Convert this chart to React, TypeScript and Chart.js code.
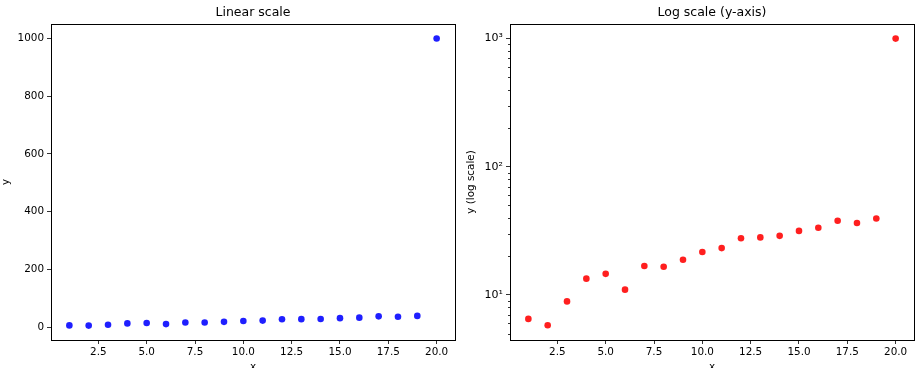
import React, { useEffect, useRef } from "react";
import { Chart, registerables } from "chart.js";

Chart.register(...registerables);

const xValues = [1, 2, 3, 4, 5, 6, 7, 8, 9, 10, 11, 12, 13, 14, 15, 16, 17, 18, 19, 20];
const yValues = [6.5, 5.8, 8.9, 13.4, 14.6, 11.0, 16.8, 16.6, 18.8, 21.6, 23.2, 27.7, 28.1, 28.9, 31.6, 33.4, 37.9, 36.4, 39.5, 1000];
const xTickValues = [2.5, 5.0, 7.5, 10.0, 12.5, 15.0, 17.5, 20.0];
const linearYTicks = [0, 200, 400, 600, 800, 1000];
const logMajorTicks = [10, 100, 1000];
const logMinorTicks = [5, 6, 7, 8, 9, 20, 30, 40, 50, 60, 70, 80, 90, 200, 300, 400, 500, 600, 700, 800, 900];
const superscripts: Record<number, string> = { 10: "10\u00B9", 100: "10\u00B2", 1000: "10\u00B3" };

const FONT = "'DejaVu Sans', sans-serif";
const TICK_SIZE = 10.4;

function makeFramePlugin(title: string, minorTicks: number[] | null) {
  return {
    id: "frame_" + title.replace(/\W/g, ""),
    afterDraw(chart: any) {
      const { ctx, chartArea } = chart;
      ctx.save();
      ctx.strokeStyle = "#000";
      ctx.lineWidth = 1;
      ctx.strokeRect(
        Math.round(chartArea.left) + 0.5,
        Math.round(chartArea.top) + 0.5,
        Math.round(chartArea.right - chartArea.left),
        Math.round(chartArea.bottom - chartArea.top)
      );
      if (minorTicks) {
        const ys = chart.scales.y;
        ctx.beginPath();
        for (const v of minorTicks) {
          const py = Math.round(ys.getPixelForValue(v)) + 0.5;
          if (py < chartArea.top || py > chartArea.bottom) continue;
          ctx.moveTo(chartArea.left, py);
          ctx.lineTo(chartArea.left - 2, py);
        }
        ctx.lineWidth = 0.8;
        ctx.stroke();
      }
      ctx.fillStyle = "#000";
      ctx.font = "12.5px " + FONT;
      ctx.textAlign = "center";
      ctx.textBaseline = "middle";
      ctx.fillText(title, (chartArea.left + chartArea.right) / 2, 13);
      ctx.restore();
    },
  };
}

function buildConfig(log: boolean): any {
  const data = xValues.map((x, i) => ({ x, y: yValues[i] }));
  const color = log ? "rgba(255,0,0,0.88)" : "rgba(0,0,255,0.88)";
  const yTicksList = log ? logMajorTicks : linearYTicks;
  return {
    type: "scatter",
    data: {
      datasets: [
        {
          data,
          backgroundColor: color,
          borderColor: color,
          pointRadius: 3.3,
          borderWidth: 0,
        },
      ],
    },
    options: {
      animation: false,
      responsive: false,
      maintainAspectRatio: false,
      layout: { padding: { top: 24, right: log ? 6 : 5, left: 0, bottom: 0 } },
      plugins: { legend: { display: false }, tooltip: { enabled: false }, title: { display: false } },
      scales: {
        x: {
          type: "linear",
          min: 0.05,
          max: 20.95,
          afterBuildTicks(scale: any) {
            scale.ticks = xTickValues.map((v) => ({ value: v }));
          },
          afterFit(scale: any) {
            scale.height = 28;
          },
          grid: { display: true, drawOnChartArea: false, drawTicks: true, tickLength: 4, tickColor: "#000", tickWidth: 0.8 },
          border: { display: false },
          ticks: {
            color: "#000",
            font: { family: FONT, size: TICK_SIZE },
            padding: 2,
            maxRotation: 0,
            autoSkip: false,
            callback: (v: number) => v.toFixed(1),
          },
          title: { display: true, text: "x", color: "#000", font: { family: FONT, size: TICK_SIZE }, padding: { top: 8, bottom: -6 } },
        },
        y: log
          ? {
              type: "logarithmic",
              min: 4.45,
              max: 1300,
              afterBuildTicks(scale: any) {
                scale.ticks = yTicksList.map((v) => ({ value: v }));
              },
              afterFit(scale: any) {
                scale.width = 50;
              },
              grid: { display: true, drawOnChartArea: false, drawTicks: true, tickLength: 4, tickColor: "#000", tickWidth: 0.8 },
              border: { display: false },
              ticks: {
                color: "#000",
                font: { family: FONT, size: TICK_SIZE + 0.6 },
                padding: 3,
                autoSkip: false,
                callback: (v: number) => superscripts[v] ?? "",
              },
              title: { display: true, text: "y (log scale)", color: "#000", font: { family: FONT, size: TICK_SIZE }, padding: { top: 5, bottom: 0 } },
            }
          : {
              type: "linear",
              min: -44,
              max: 1050,
              afterBuildTicks(scale: any) {
                scale.ticks = yTicksList.map((v) => ({ value: v }));
              },
              afterFit(scale: any) {
                scale.width = 51;
              },
              grid: { display: true, drawOnChartArea: false, drawTicks: true, tickLength: 4, tickColor: "#000", tickWidth: 0.8 },
              border: { display: false },
              ticks: {
                color: "#000",
                font: { family: FONT, size: TICK_SIZE },
                padding: 3,
                autoSkip: false,
                callback: (v: number) => String(v),
              },
              title: { display: true, text: "y", color: "#000", font: { family: FONT, size: TICK_SIZE }, padding: { top: 0, bottom: 0 } },
            },
      },
    },
    plugins: [makeFramePlugin(log ? "Log scale (y-axis)" : "Linear scale", log ? logMinorTicks : null)],
  };
}

function Panel({ log, left }: { log: boolean; left: number }) {
  const ref = useRef<HTMLCanvasElement>(null);
  useEffect(() => {
    if (!ref.current) return;
    const chart = new Chart(ref.current, buildConfig(log));
    return () => chart.destroy();
  }, [log]);
  return (
    <canvas
      ref={ref}
      width={460}
      height={368}
      style={{ position: "absolute", left, top: 0, width: 460, height: 368 }}
    />
  );
}

export default function App() {
  return (
    <div style={{ position: "absolute", left: 0, top: 0, width: 920, height: 368, background: "#fff", overflow: "hidden" }}>
      <Panel log={false} left={0} />
      <Panel log={true} left={460} />
    </div>
  );
}
